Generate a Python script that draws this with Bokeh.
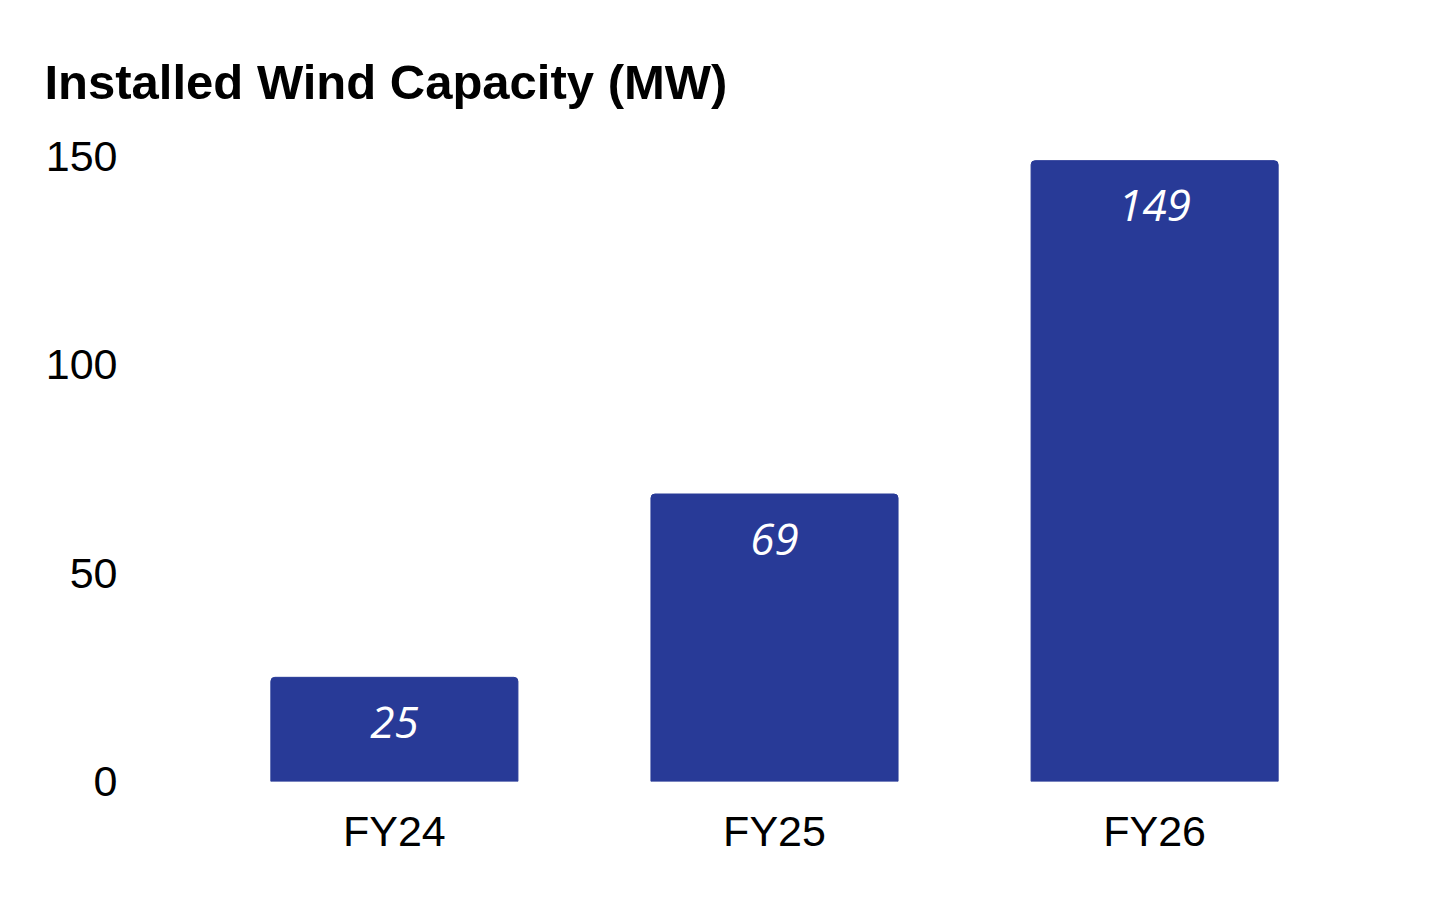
from bokeh.plotting import figure
from bokeh.models import ColumnDataSource, FactorRange, Title, FixedTicker
from bokeh.core.properties import value
from bokeh.embed import file_html
from bokeh.resources import INLINE

categories = ["FY24", "FY25", "FY26"]
capacity_mw = [25, 69, 149]
y_ticks = [0, 50, 100, 150]
title_text = "Installed Wind Capacity (MW)"

src = ColumnDataSource(dict(cat=categories, val=capacity_mw, lbl=[str(v) for v in capacity_mw]))

xr = FactorRange(*categories, range_padding=0.21, range_padding_units="absolute")
p = figure(x_range=xr, y_range=(0, 150), width=1440, height=884,
           output_backend="svg", toolbar_location=None,
           min_border_left=124, min_border_right=16, min_border_top=156, min_border_bottom=103)

p.title = None
t = Title(text=title_text, text_font="Liberation Sans", text_font_size="49px",
          text_font_style="bold", text_color="black", align="left", offset=-80, standoff=96)
p.add_layout(t, "above")

p.vbar(x="cat", top="val", width=0.65, source=src, fill_color="#283A97",
       line_color="#283A97", border_radius=[4, 4, 0, 0])
p.text(x="cat", y="val", text="lbl", source=src, text_color="white",
       text_font=value("Open Sans"), text_font_style="italic", text_font_size="44px",
       text_align="center", text_baseline="middle", y_offset=45)

p.xgrid.visible = False
p.ygrid.visible = False
p.outline_line_color = None

p.yaxis.ticker = FixedTicker(ticks=y_ticks)
for ax in (p.xaxis[0], p.yaxis[0]):
    ax.axis_line_color = None
    ax.major_tick_line_color = None
    ax.minor_tick_line_color = None
    ax.major_tick_out = 0
    ax.major_tick_in = 0
    ax.minor_tick_out = 0
    ax.major_label_text_font = "Liberation Sans"
    ax.major_label_text_font_size = "43px"
    ax.major_label_text_color = "black"
p.yaxis.major_label_standoff = 7
p.xaxis.major_label_standoff = 25

open("out.html", "w").write(file_html(p, INLINE))
